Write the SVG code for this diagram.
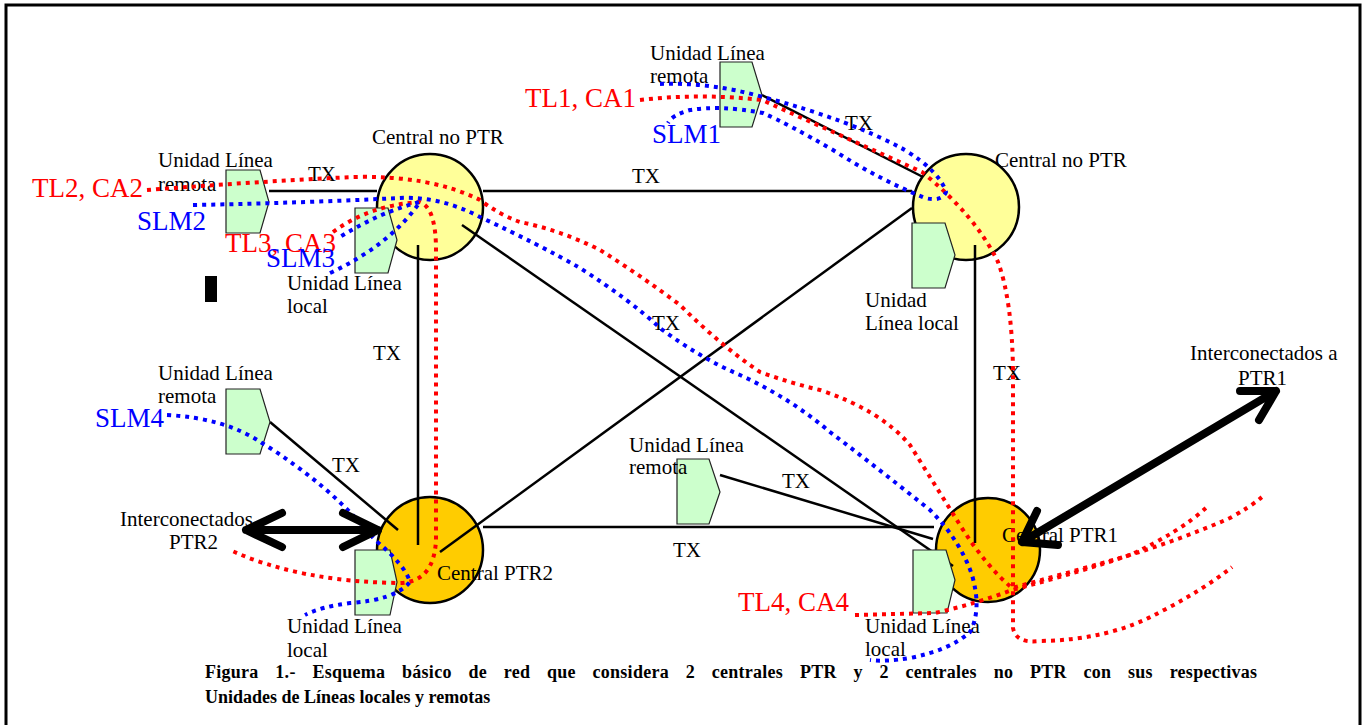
<svg xmlns="http://www.w3.org/2000/svg" width="1364" height="725" viewBox="0 0 1364 725">
<style>
text{font-family:"Liberation Serif","DejaVu Serif","Times New Roman",serif}
.t{font-size:21px;fill:#000}
.r{font-size:27px;fill:#ff0000}
.b{font-size:27px;fill:#0000ff}
.cap{font-size:18px;font-weight:bold;fill:#000}
.ln{stroke:#000;stroke-width:2.5;fill:none}
.nptr{fill:#ffff99;stroke:#000;stroke-width:2.5}
.ptr{fill:#ffcc00;stroke:#000;stroke-width:2.5}
.unit{fill:#ccffcc;stroke:#222;stroke-width:1.2}
.dr{fill:none;stroke:#ff0000;stroke-width:4;stroke-dasharray:4 5}
.db{fill:none;stroke:#0000ff;stroke-width:4;stroke-dasharray:4 5}
.arr{fill:none;stroke:#000;stroke-width:8;stroke-linecap:round;stroke-linejoin:round}
</style>
<rect width="1364" height="725" fill="#fff"/>
<path d="M6,725 V5 H1360 V725" fill="none" stroke="#000" stroke-width="3"/>

<g id="central-noptr-1"><circle class="nptr" cx="430" cy="207" r="53"/><text class="t" x="372" y="144" font-family="Liberation Serif, serif">Central no PTR</text></g>
<g id="central-noptr-2"><circle class="nptr" cx="966" cy="207" r="53"/><text class="t" x="995" y="167">Central no PTR</text></g>
<g id="central-ptr2"><circle class="ptr" cx="430" cy="550" r="53"/></g>
<g id="central-ptr1"><circle class="ptr" cx="988" cy="550" r="52"/></g>

<g id="connectors">
<line class="ln" x1="483" y1="191" x2="912" y2="191"/>
<line class="ln" x1="418" y1="245" x2="418" y2="545"/>
<line class="ln" x1="975" y1="245" x2="975" y2="543"/>
<line class="ln" x1="483" y1="527" x2="934" y2="527"/>
<line class="ln" x1="462" y1="225" x2="953" y2="566"/>
<line class="ln" x1="912" y1="208" x2="440" y2="552"/>
<line class="ln" x1="762" y1="95" x2="923" y2="177"/>
<line class="ln" x1="269" y1="191" x2="377" y2="191"/>
<line class="ln" x1="270" y1="422" x2="398" y2="530"/>
<line class="ln" x1="720" y1="475" x2="933" y2="539"/>
</g>

<g id="unit-remota-tl1"><polygon class="unit" points="720,62 752,62 762,95 752,127 720,127"/><text class="t" x="650" y="60">Unidad Línea</text><text class="t" x="650" y="83">remota</text></g>
<g id="unit-remota-tl2"><polygon class="unit" points="226,170 260,170 269,202 260,233 226,233"/><text class="t" x="158" y="167">Unidad Línea</text><text class="t" x="158" y="191">remota</text></g>
<g id="unit-local-tl3"><polygon class="unit" points="355,208 388,208 397,240 388,273 355,273"/><text class="t" x="287" y="290">Unidad Línea</text><text class="t" x="287" y="313">local</text></g>
<g id="unit-local-tr"><polygon class="unit" points="912,223 945,223 955,255 945,288 912,288"/><text class="t" x="865" y="307">Unidad</text><text class="t" x="865" y="330">Línea local</text></g>
<g id="unit-remota-slm4"><polygon class="unit" points="226,389 260,389 270,422 260,454 226,454"/><text class="t" x="158" y="380">Unidad Línea</text><text class="t" x="158" y="403">remota</text></g>
<g id="unit-local-ptr2"><polygon class="unit" points="355,550 390,550 397,582 390,615 355,615"/><text class="t" x="287" y="633">Unidad Línea</text><text class="t" x="287" y="657">local</text></g>
<g id="unit-remota-bottom"><polygon class="unit" points="677,459 709,459 720,492 709,524 677,524"/><text class="t" x="629" y="452">Unidad Línea</text><text class="t" x="629" y="474">remota</text></g>
<g id="unit-local-ptr1"><polygon class="unit" points="913,550 946,550 955,580 947,613 913,613"/><text class="t" x="865" y="633">Unidad Línea</text><text class="t" x="865" y="656">local</text></g>

<g id="tx-labels">
<text class="t" x="308" y="181">TX</text>
<text class="t" x="632" y="183">TX</text>
<text class="t" x="845" y="130">TX</text>
<text class="t" x="373" y="360">TX</text>
<text class="t" x="652" y="330">TX</text>
<text class="t" x="993" y="380">TX</text>
<text class="t" x="332" y="472">TX</text>
<text class="t" x="782" y="488">TX</text>
<text class="t" x="673" y="557">TX</text>
</g>

<text class="t" x="437" y="580">Central PTR2</text>
<text class="t" x="1002" y="542">Central PTR1</text>
<text class="t" x="1190" y="360">Interconectados a</text>
<text class="t" x="1238" y="385">PTR1</text>
<text class="t" x="120" y="526">Interconectados</text>
<text class="t" x="169" y="549">PTR2</text>
<rect x="205" y="276" width="12" height="26" fill="#000"/>

<g id="signal-labels">
<text class="r" x="525" y="107">TL1, CA1</text>
<text class="b" x="652" y="143">SLM1</text>
<text class="r" x="32" y="197">TL2, CA2</text>
<text class="b" x="137" y="230">SLM2</text>
<text class="r" x="225" y="252">TL3, CA3</text>
<text class="b" x="266" y="267">SLM3</text>
<text class="b" x="95" y="427">SLM4</text>
<text class="r" x="738" y="611">TL4, CA4</text>
</g>

<g id="signal-paths">
<path class="dr" d="M640,100 Q700,93 762,100 L922,172 Q975,215 998,262 Q1012,300 1013,370 L1013,628 Q1016,644 1040,641 Q1110,640 1160,612 Q1200,592 1232,567"/>
<path class="dr" d="M147,190 Q250,182 353,177 Q430,175 480,200 Q500,215 520,222 Q560,230 600,250 Q640,275 680,305 Q720,345 760,372 Q790,383 820,390 Q880,410 910,445 Q935,485 960,525 Q985,565 1012,588 Q1060,575 1120,558 Q1180,540 1230,518 Q1250,507 1262,497"/>
<path class="dr" d="M333,232 Q370,205 420,202 Q436,208 436,250 L436,540 Q434,582 400,583 Q300,582 230,550"/>
<path class="dr" d="M855,615 L935,613 Q975,604 1012,590 Q1080,572 1130,555 Q1180,532 1207,507"/>
<path class="db" d="M660,84 Q710,82 763,97 Q850,120 905,150 Q940,172 946,192 Q942,202 925,198 Q880,180 833,150 Q790,125 763,113 Q720,105 690,110 Q672,115 668,123"/>
<path class="db" d="M193,205 Q300,203 400,198 Q440,196 480,217 Q540,245 580,268 Q630,300 660,328 Q700,358 740,375 Q790,398 830,432 Q880,470 930,510 Q960,540 972,575 Q982,610 970,632 Q950,650 910,658 Q885,662 870,660"/>
<path class="db" d="M330,273 Q390,245 420,202 Q380,212 340,237"/>
<path class="db" d="M167,415 Q225,418 262,443 Q330,485 375,540 Q405,565 410,582 Q395,600 350,603 Q320,607 305,615"/>
</g>

<g id="arrows">
<path class="arr" d="M246,530 H378 M282,513 L246,530 L282,547 M343,513 L378,530 L343,547"/>
<path class="arr" d="M1022,542 L1276,391 M1240,391 L1276,391 L1259,420 M1037,511 L1022,542 L1058,545"/>
</g>

<text class="cap" x="205" y="678" word-spacing="12" textLength="1052" lengthAdjust="spacing">Figura 1.- Esquema básico de red que considera 2 centrales PTR y 2 centrales no PTR con sus respectivas</text>
<text class="cap" x="205" y="703">Unidades de Líneas locales y remotas</text>
</svg>
